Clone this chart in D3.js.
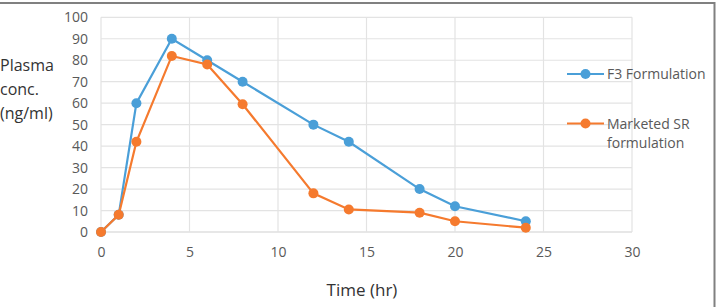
<!DOCTYPE html>
<html>
<head>
<meta charset="utf-8">
<script src="https://cdn.jsdelivr.net/npm/d3@7"></script>
<style>
	body { margin: 0; background: #fff; }
	svg { display: block; font-family: "Open Sans", "Noto Sans", sans-serif; }
</style>
</head>
<body>
<svg id="chart" width="721" height="307"></svg>
<script>

// data
const timeHr = [0, 1, 2, 4, 6, 8, 12, 14, 18, 20, 24];
const f3Values = [0, 8, 60, 90, 80, 70, 50, 42, 20, 12, 5];
const marketedValues = [0, 8, 42, 82, 78, 59.5, 18, 10.5, 9, 5, 2];
const xTicks = [0, 5, 10, 15, 20, 25, 30];
const yTicks = [0, 10, 20, 30, 40, 50, 60, 70, 80, 90, 100];
const seriesNames = ["F3 Formulation", "Marketed SR formulation"];
const seriesColors = ["#4a9fd8", "#f57a2e"];

function drawChart() {
	const svg = d3.select('#chart');

	// frame (top + right edge only, as in the picture)
	svg.append('line').attr('x1', 0).attr('x2', 715).attr('y1', 3).attr('y2', 3)
		.attr('stroke', '#808080').attr('stroke-width', 2);
	svg.append('line').attr('x1', 714.5).attr('x2', 714.5).attr('y1', 2).attr('y2', 307)
		.attr('stroke', '#808080').attr('stroke-width', 2);

	const x = d3.scaleLinear().domain([0, 30]).range([101, 632]);
	const y = d3.scaleLinear().domain([0, 100]).range([232, 17.3]);

	// grid
	svg.append('g').selectAll('line.h')
		.data(yTicks)
		.enter().append('line')
		.attr('x1', x(0)).attr('x2', x(30))
		.attr('y1', d => y(d)).attr('y2', d => y(d))
		.attr('stroke', d => d === 0 ? '#cfcfcf' : '#e3e3e3')
		.attr('stroke-width', 1.2);
	svg.append('g').selectAll('line.v')
		.data(xTicks)
		.enter().append('line')
		.attr('x1', d => x(d)).attr('x2', d => x(d))
		.attr('y1', y(0)).attr('y2', y(100))
		.attr('stroke', '#e3e3e3')
		.attr('stroke-width', 1.2);

	// axes (labels only)
	const yAxis = svg.append('g')
		.attr('transform', 'translate(' + x(0) + ',0)')
		.call(d3.axisLeft(y).tickValues(yTicks).tickSize(0).tickPadding(13));
	const xAxis = svg.append('g')
		.attr('transform', 'translate(0,' + y(0) + ')')
		.call(d3.axisBottom(x).tickValues(xTicks).tickSize(0).tickPadding(15));
	[xAxis, yAxis].forEach(a => {
		a.select('.domain').remove();
		a.selectAll('text').attr('fill', '#595959').style('font-size', '14px')
			.style('font-family', '"Open Sans", sans-serif');
	});

	// series
	const series = [f3Values, marketedValues];
	const line = d3.line().x((d, i) => x(timeHr[i])).y(d => y(d));
	series.forEach((vals, k) => {
		const g = svg.append('g');
		g.append('path').datum(vals)
			.attr('d', line)
			.attr('fill', 'none')
			.attr('stroke', seriesColors[k])
			.attr('stroke-width', 2.2);
		g.selectAll('circle').data(vals).enter().append('circle')
			.attr('cx', (d, i) => x(timeHr[i]))
			.attr('cy', d => y(d))
			.attr('r', 5)
			.attr('fill', seriesColors[k]);
	});

	// axis titles
	svg.append('text').attr('x', 362).attr('y', 296)
		.attr('text-anchor', 'middle').attr('fill', '#333')
		.style('font-size', '17px').text('Time (hr)');
	const yTitle = ['Plasma', 'conc.', '(ng/ml)'];
	svg.append('g').selectAll('text').data(yTitle).enter().append('text')
		.attr('x', 0).attr('y', (d, i) => 71 + i * 24)
		.attr('fill', '#333').style('font-size', '16px')
		.text(d => d);

	// legend
	const legendRows = [[seriesNames[0]], ["Marketed SR", "formulation"]];
	const legendY = [74, 123.5];
	legendRows.forEach((rows, k) => {
		const g = svg.append('g').attr('transform', 'translate(0,' + legendY[k] + ')');
		g.append('line').attr('x1', 567).attr('x2', 604).attr('y1', 0).attr('y2', 0)
			.attr('stroke', seriesColors[k]).attr('stroke-width', 2.2);
		g.selectAll('circle').data([0]).enter().append('circle')
			.attr('cx', 585.5).attr('cy', 0).attr('r', 5)
			.attr('fill', seriesColors[k]);
		g.selectAll('text').data(rows).enter().append('text')
			.attr('x', 607).attr('y', (d, i) => 5 + i * 19.5)
			.attr('fill', '#595959').style('font-size', '14px')
			.text(d => d);
	});
}

function whenDocumentLoaded(action) {
	if (document.readyState === "loading") {
		document.addEventListener("DOMContentLoaded", action);
	} else {
		action();
	}
}

whenDocumentLoaded(drawChart);
</script>
</body>
</html>
